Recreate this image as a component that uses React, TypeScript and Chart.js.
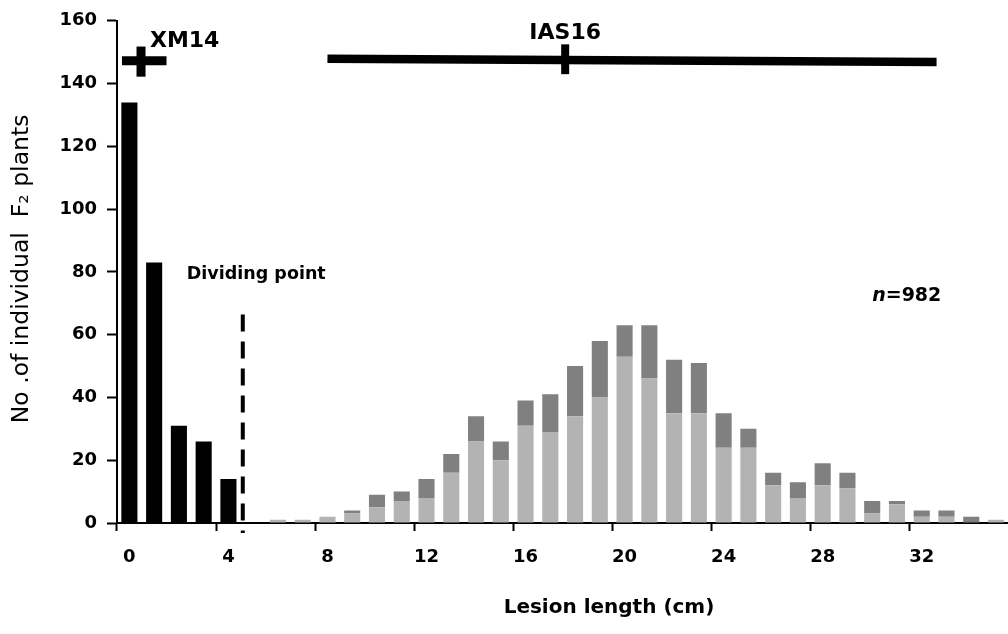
import React, { useEffect, useRef } from 'react';
import { Chart, registerables } from 'chart.js';

Chart.register(...registerables);

// Lesion length categories (cm)
const categories = [
  '0', '1', '2', '3', '4', '5', '6', '7', '8', '9', '10', '11', '12', '13', '14', '15', '16', '17',
  '18', '19', '20', '21', '22', '23', '24', '25', '26', '27', '28', '29', '30', '31', '32', '33', '34', '35',
];

// Plants below the dividing point (black)
const resistantCounts = [
  134, 83, 31, 26, 14, 0, 0, 0, 0, 0, 0, 0, 0, 0, 0, 0, 0, 0,
  0, 0, 0, 0, 0, 0, 0, 0, 0, 0, 0, 0, 0, 0, 0, 0, 0, 0,
];

// Lower (light grey) part of the susceptible bars
const lightCounts = [
  0, 0, 0, 0, 0, 0, 1, 1, 2, 3, 5, 7, 8, 16, 26, 20, 31, 29,
  34, 40, 53, 46, 35, 35, 24, 24, 12, 8, 12, 11, 3, 6, 2, 2, 0, 1,
];

// Upper (dark grey) part of the susceptible bars
const darkCounts = [
  0, 0, 0, 0, 0, 0, 0, 0, 0, 1, 4, 3, 6, 6, 8, 6, 8, 12,
  16, 18, 10, 17, 17, 16, 11, 6, 4, 5, 7, 5, 4, 1, 2, 2, 2, 0,
];

const yTickValues = [0, 20, 40, 60, 80, 100, 120, 140, 160];
const xLabelEvery = 4;

const FONT = "'DejaVu Sans', sans-serif";

const annotationPlugin = {
  id: 'annotations',
  afterDraw(chart: any) {
    const { ctx, chartArea } = chart;
    const x = chart.scales.x;
    const y = chart.scales.y;
    const px = (i: number) => x.getPixelForValue(i);
    const py = (v: number) => y.getPixelForValue(v);
    ctx.save();
    ctx.fillStyle = '#000';
    ctx.strokeStyle = '#000';

    // XM14 marker
    ctx.lineCap = 'butt';
    ctx.lineWidth = 9;
    ctx.beginPath();
    ctx.moveTo(px(-0.3), py(147.3));
    ctx.lineTo(px(1.5), py(147.3));
    ctx.stroke();
    ctx.beginPath();
    ctx.moveTo(px(0.47), py(151.8));
    ctx.lineTo(px(0.47), py(142.2));
    ctx.stroke();

    // IAS16 marker
    ctx.lineWidth = 8.5;
    ctx.beginPath();
    ctx.moveTo(px(8.0), py(147.9));
    ctx.lineTo(px(32.6), py(146.9));
    ctx.stroke();
    ctx.lineWidth = 8;
    ctx.beginPath();
    ctx.moveTo(px(17.6), py(152.5));
    ctx.lineTo(px(17.6), py(143));
    ctx.stroke();

    // Dividing line
    ctx.lineWidth = 4;
    ctx.setLineDash([17, 10]);
    ctx.beginPath();
    ctx.moveTo(px(4.58), py(66.4));
    ctx.lineTo(px(4.58), py(-3.2));
    ctx.stroke();
    ctx.setLineDash([]);

    // Texts
    ctx.textBaseline = 'alphabetic';
    ctx.textAlign = 'left';
    ctx.font = `bold 22px ${FONT}`;
    ctx.fillText('XM14', px(0.83), py(151.8));
    ctx.textAlign = 'center';
    ctx.fillText('IAS16', px(17.6), py(154.3));

    ctx.textAlign = 'left';
    ctx.font = `bold 17.5px ${FONT}`;
    ctx.fillText('Dividing point', px(2.32), py(77.8));

    ctx.textBaseline = 'middle';
    ctx.font = `italic bold 19px ${FONT}`;
    const nx = px(30.0);
    const ny = py(72.4);
    ctx.fillText('n', nx, ny);
    const nw = ctx.measureText('n').width;
    ctx.font = `bold 19px ${FONT}`;
    ctx.fillText('=982', nx + nw, ny);

    // Axis titles
    ctx.textAlign = 'center';
    ctx.font = `bold 20px ${FONT}`;
    ctx.fillText('Lesion length (cm)', px(19.37), chartArea.bottom + 85);

    ctx.save();
    ctx.translate(22, (chartArea.top + chartArea.bottom) / 2 - 3);
    ctx.rotate(-Math.PI / 2);
    ctx.font = `23.5px ${FONT}`;
    ctx.fillText('No .of individual  F\u2082 plants', 0, 0);
    ctx.restore();

    ctx.restore();
  },
};

export default function App() {
  const canvasRef = useRef<HTMLCanvasElement | null>(null);

  useEffect(() => {
    const canvas = canvasRef.current;
    if (!canvas) return;
    const chart = new Chart(canvas, {
      type: 'bar',
      data: {
        labels: categories,
        datasets: [
          {
            label: 'Resistant',
            data: resistantCounts,
            backgroundColor: '#000000',
            stack: 's',
          },
          {
            label: 'Light',
            data: lightCounts,
            backgroundColor: '#b3b3b3',
            stack: 's',
          },
          {
            label: 'Dark',
            data: darkCounts,
            backgroundColor: '#808080',
            stack: 's',
          },
        ],
      },
      options: {
        responsive: false,
        animation: false,
        devicePixelRatio: 1,
        layout: { padding: { left: 0, right: 0, top: 17, bottom: 0 } },
        datasets: { bar: { categoryPercentage: 1, barPercentage: 0.65, borderWidth: 0 } },
        plugins: { legend: { display: false }, tooltip: { enabled: false }, title: { display: false } },
        scales: {
          x: {
            stacked: true,
            offset: true,
            grid: {
              offset: true,
              drawOnChartArea: false,
              drawTicks: true,
              tickLength: 8,
              tickWidth: 2,
              tickColor: (c: any) => (c.index % xLabelEvery === 0 ? '#000' : 'rgba(0,0,0,0)'),
            },
            border: { display: true, color: '#000', width: 2 },
            ticks: {
              autoSkip: false,
              maxRotation: 0,
              padding: 16,
              color: '#000',
              font: { family: FONT, weight: 'bold', size: 18 },
              callback: (_v: any, i: number) => (i % xLabelEvery === 0 ? categories[i] : ''),
            },
            afterFit: (s: any) => {
              s.height = 111;
            },
          },
          y: {
            stacked: true,
            min: 0,
            max: 160,
            afterBuildTicks: (s: any) => {
              s.ticks = yTickValues.map((v) => ({ value: v }));
            },
            grid: {
              drawOnChartArea: false,
              drawTicks: true,
              tickLength: 10,
              tickWidth: 2,
              tickColor: '#000',
            },
            border: { display: true, color: '#000', width: 2 },
            ticks: {
              padding: 10,
              color: '#000',
              font: { family: FONT, weight: 'bold', size: 18 },
            },
            afterFit: (s: any) => {
              s.width = 117;
            },
          },
        },
      },
      plugins: [annotationPlugin],
    });
    return () => chart.destroy();
  }, []);

  return (
    <div style={{ position: 'fixed', left: 0, top: 0, width: 1008, height: 634, overflow: 'hidden', background: '#fff' }}>
      <canvas ref={canvasRef} width={1012} height={634} style={{ width: 1012, height: 634, display: 'block' }} />
    </div>
  );
}
